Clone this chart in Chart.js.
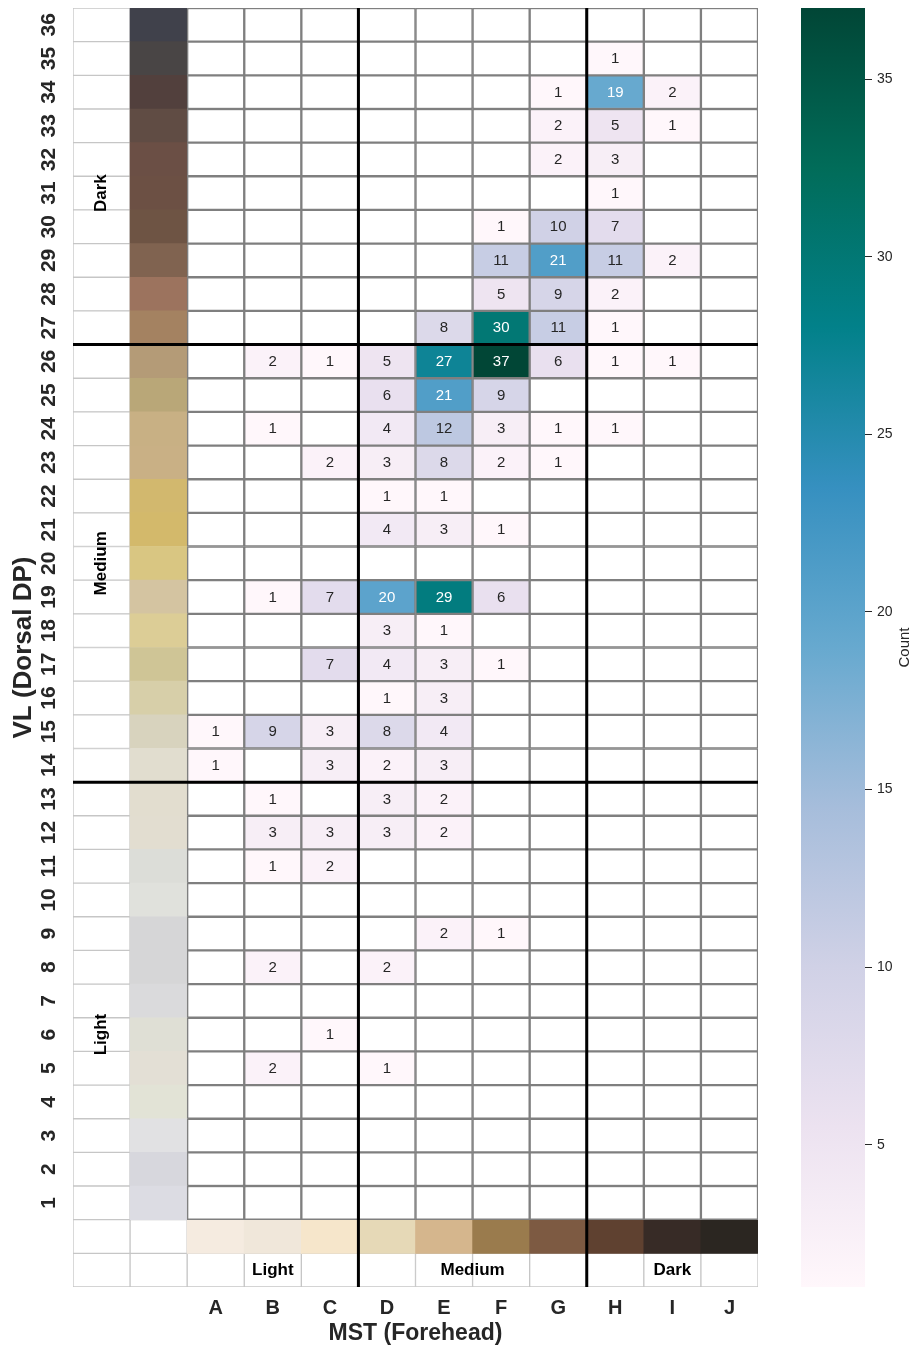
<!DOCTYPE html>
<html>
<head>
<meta charset="utf-8">
<title>MST vs VL heatmap</title>
<script src="https://cdn.jsdelivr.net/npm/chart.js@4.4.1/dist/chart.umd.min.js"></script>
<style>
  html, body { margin: 0; padding: 0; background: #ffffff; }
  #wrap { position: relative; width: 914px; height: 1347px; }
  #heat { position: absolute; left: 0; top: 0; }
  #bar  { position: absolute; left: 790px; top: 0; }
</style>
</head>
<body>
<div id="wrap">
  <canvas id="heat" width="790" height="1347"></canvas>
  <canvas id="bar" width="124" height="1347"></canvas>
</div>
<script>
// ---- categories ----
const vlLevels = [1, 2, 3, 4, 5, 6, 7, 8, 9, 10, 11, 12, 13, 14, 15, 16, 17, 18,
                  19, 20, 21, 22, 23, 24, 25, 26, 27, 28, 29, 30, 31, 32, 33, 34, 35, 36];
const mstLabels = ['A', 'B', 'C', 'D', 'E', 'F', 'G', 'H', 'I', 'J'];

// ---- counts per MST (forehead) tone, indexed VL 1 .. 36 ----
//              VL1-5        VL6-10       VL11-15      VL16-20       VL21-25        VL26-30         VL31-35     36
const mstA = [0,0,0,0,0,  0,0,0,0,0,  0,0,0,1,1,  0,0,0,0,0,   0,0,0,0,0,     0,0,0,0,0,      0,0,0,0,0,  0];
const mstB = [0,0,0,0,2,  0,0,2,0,0,  1,3,1,0,9,  0,0,0,1,0,   0,0,0,1,0,     2,0,0,0,0,      0,0,0,0,0,  0];
const mstC = [0,0,0,0,0,  1,0,0,0,0,  2,3,0,3,3,  0,7,0,7,0,   0,0,2,0,0,     1,0,0,0,0,      0,0,0,0,0,  0];
const mstD = [0,0,0,0,1,  0,0,2,0,0,  0,3,3,2,8,  1,4,3,20,0,  4,1,3,4,6,     5,0,0,0,0,      0,0,0,0,0,  0];
const mstE = [0,0,0,0,0,  0,0,0,2,0,  0,2,2,3,4,  3,3,1,29,0,  3,1,8,12,21,   27,8,0,0,0,     0,0,0,0,0,  0];
const mstF = [0,0,0,0,0,  0,0,0,1,0,  0,0,0,0,0,  0,1,0,6,0,   1,0,2,3,9,     37,30,5,11,1,   0,0,0,0,0,  0];
const mstG = [0,0,0,0,0,  0,0,0,0,0,  0,0,0,0,0,  0,0,0,0,0,   0,0,1,1,0,     6,11,9,21,10,   0,2,2,1,0,  0];
const mstH = [0,0,0,0,0,  0,0,0,0,0,  0,0,0,0,0,  0,0,0,0,0,   0,0,0,1,0,     1,1,2,11,7,     1,3,5,19,1, 0];
const mstI = [0,0,0,0,0,  0,0,0,0,0,  0,0,0,0,0,  0,0,0,0,0,   0,0,0,0,0,     1,0,0,2,0,      0,0,1,2,0,  0];
const mstJ = [0,0,0,0,0,  0,0,0,0,0,  0,0,0,0,0,  0,0,0,0,0,   0,0,0,0,0,     0,0,0,0,0,      0,0,0,0,0,  0];
const countsByMst = [mstA, mstB, mstC, mstD, mstE, mstF, mstG, mstH, mstI, mstJ];

// ---- reference swatches ----
const vlSwatches = [
  '#dcdce3', '#d7d7dd', '#e1e1e3', '#e2e3d6', '#e3dfd5', '#dfdfd5', '#dadadc', '#d6d6d7', '#d6d6d7',
  '#e0e1dc', '#dcddd8', '#e2ddd0', '#e2ddcf', '#e1ddcf', '#d8d3be', '#d7cfa9', '#cfc596', '#dccd96',
  '#d4c4a1', '#d9c682', '#d3b96b', '#d2b86e', '#c9b085', '#c8b084', '#b9a778', '#b49b77', '#a48261',
  '#9c735e', '#806350', '#6e5444', '#6c5044', '#6b4f45', '#604c44', '#52403d', '#494545', '#40414b'
];
const mstSwatches = ['#f5ebe0', '#f0e7da', '#f6e6cb', '#e6d9b7', '#d5b68d',
                     '#9a7b4d', '#7d5a42', '#5f4130', '#372b26', '#2b2621'];

// ---- tone bands ----
const bandNames = ['Light', 'Medium', 'Dark'];
const vlBands = [[1, 13], [14, 26], [27, 36]];
const vlBandLabelRows = [6, 20, 31];
const mstBands = [['A', 'C'], ['D', 'G'], ['H', 'J']];

// ---- colour bar ticks ----
const countTicks = [5, 10, 15, 20, 25, 30, 35];

// ---------------------------------------------------------------
const FONT = "'Liberation Sans', Arial, Helvetica, sans-serif";
Chart.defaults.font.family = FONT;
const INK = '#262626';

const xCategories = ['band', 'swatch'].concat(mstLabels);
const ROW_MST = 0;     // MST swatch row
const ROW_BAND = -1;   // MST band-name row

const allCounts = countsByMst.flat().filter(v => v > 0);
const countMin = Math.min(...allCounts);
const countMax = Math.max(...allCounts);

// PuBuGn colour map
const pubugn = ['#fff7fb', '#ece2f0', '#d0d1e6', '#a6bddb', '#67a9cf',
                '#3690c0', '#02818a', '#016c59', '#014636'];
const hexRgb = h => [1, 3, 5].map(i => parseInt(h.slice(i, i + 2), 16));
function cmapRgb(v) {
  let t = (v - countMin) / (countMax - countMin);
  t = Math.max(0, Math.min(1, t));
  const p = t * (pubugn.length - 1);
  const i = Math.min(Math.floor(p), pubugn.length - 2);
  const f = p - i;
  const a = hexRgb(pubugn[i]), b = hexRgb(pubugn[i + 1]);
  return a.map((c, k) => Math.round(c + (b[k] - c) * f));
}
const rgbStr = c => `rgb(${c[0]},${c[1]},${c[2]})`;
function luminance(c) {
  const lin = c.map(x => { x /= 255; return x <= 0.03928 ? x / 12.92 : Math.pow((x + 0.055) / 1.055, 2.4); });
  return 0.2126 * lin[0] + 0.7152 * lin[1] + 0.0722 * lin[2];
}

function countAt(level, col) {
  if (col < 2 || level < 1) return 0;
  return countsByMst[col - 2][level - 1] || 0;
}

function cellFill(kind, level, i) {
  if (kind === 'vl') {
    if (i === 0) return '#ffffff';
    if (i === 1) return vlSwatches[level - 1];
    const v = countAt(level, i);
    return v > 0 ? rgbStr(cmapRgb(v)) : '#ffffff';
  }
  if (kind === 'mst') return i < 2 ? '#ffffff' : mstSwatches[i - 2];
  return '#ffffff';
}
function cellEdge(kind, i) {
  if (kind === 'vl') return i === 0 ? '#c6c6c6' : (i === 1 ? 'rgba(0,0,0,0)' : '#7f7f7f');
  if (kind === 'mst') return i < 2 ? '#c6c6c6' : 'rgba(0,0,0,0)';
  return '#c6c6c6';
}
function cellEdgeWidth(kind, i) {
  if (kind === 'vl') return i === 0 ? 1 : (i === 1 ? 0 : 1.5);
  if (kind === 'mst') return i < 2 ? 1 : 0;
  return 1;
}

function rowDataset(level, kind) {
  return {
    label: kind + ' ' + level,
    level: level,
    kind: kind,
    data: xCategories.map(() => [level - 0.5, level + 0.5]),
    backgroundColor: c => cellFill(kind, level, c.dataIndex),
    borderColor: c => cellEdge(kind, c.dataIndex),
    borderWidth: c => cellEdgeWidth(kind, c.dataIndex),
    borderSkipped: false,
    grouped: false,
    barPercentage: 1,
    categoryPercentage: 1
  };
}

const datasets = vlLevels.map(l => rowDataset(l, 'vl'))
  .concat([rowDataset(ROW_MST, 'mst'), rowDataset(ROW_BAND, 'band')]);

// dividers, counts and band names on top of the cells
const heatOverlay = {
  id: 'heatOverlay',
  afterDatasetsDraw(chart) {
    const { ctx, chartArea, scales: { x, y } } = chart;
    ctx.save();

    // band dividers
    ctx.strokeStyle = '#000000';
    ctx.lineWidth = 3;
    vlBands.slice(0, -1).forEach(b => {
      const py = y.getPixelForValue(b[1] + 0.5);
      ctx.beginPath(); ctx.moveTo(chartArea.left, py); ctx.lineTo(chartArea.right, py); ctx.stroke();
    });
    mstBands.slice(0, -1).forEach(b => {
      const px = x.getPixelForValue(xCategories.indexOf(b[1]) + 0.5);
      ctx.beginPath(); ctx.moveTo(px, chartArea.top); ctx.lineTo(px, chartArea.bottom); ctx.stroke();
    });

    // counts
    ctx.textAlign = 'center';
    ctx.textBaseline = 'middle';
    ctx.font = `15px ${FONT}`;
    chart.data.datasets.forEach((ds, di) => {
      if (ds.kind !== 'vl') return;
      chart.getDatasetMeta(di).data.forEach((el, i) => {
        const v = countAt(ds.level, i);
        if (!v) return;
        const p = el.getCenterPoint();
        ctx.fillStyle = luminance(cmapRgb(v)) > 0.408 ? INK : '#ffffff';
        ctx.fillText(String(v), p.x, p.y + 0.5);
      });
    });

    // band names
    ctx.fillStyle = '#000000';
    ctx.font = `bold 17px ${FONT}`;
    const metaFor = (kind, level) =>
      chart.getDatasetMeta(chart.data.datasets.findIndex(d => d.kind === kind && d.level === level));
    vlBandLabelRows.forEach((row, k) => {
      const p = metaFor('vl', row).data[0].getCenterPoint();
      ctx.save();
      ctx.translate(p.x, p.y);
      ctx.rotate(-Math.PI / 2);
      ctx.fillText(bandNames[k], 0, 0);
      ctx.restore();
    });
    const bandRow = metaFor('band', ROW_BAND).data;
    mstBands.forEach((b, k) => {
      const a = bandRow[xCategories.indexOf(b[0])].getCenterPoint();
      const z = bandRow[xCategories.indexOf(b[1])].getCenterPoint();
      ctx.fillText(bandNames[k], (a.x + z.x) / 2, a.y + 0.5);
    });
    ctx.restore();
  }
};

new Chart(document.getElementById('heat'), {
  type: 'bar',
  data: { labels: xCategories, datasets: datasets },
  options: {
    responsive: false,
    animation: false,
    devicePixelRatio: 1,
    layout: { padding: { top: 8, right: 32, bottom: 0, left: 0 } },
    plugins: { legend: { display: false }, tooltip: { enabled: false } },
    scales: {
      x: {
        type: 'category',
        offset: true,
        grid: { display: false, drawTicks: false },
        border: { display: false },
        ticks: {
          autoSkip: false, minRotation: 0, maxRotation: 0, padding: 9,
          color: INK,
          font: { size: 20, weight: 'bold' },
          callback(v, i) { return i >= 2 ? this.getLabelForValue(v) : ''; }
        },
        title: {
          display: true, text: 'MST (Forehead)', color: INK,
          font: { size: 23, weight: 'bold' },
          padding: { top: 0, bottom: 0 }
        },
        afterFit(s) { s.height = 60; s.paddingLeft = 0; s.paddingRight = 0; }
      },
      y: {
        type: 'linear',
        min: ROW_BAND - 0.5,
        max: vlLevels[vlLevels.length - 1] + 0.5,
        grid: { display: false, drawTicks: false },
        border: { display: false },
        afterBuildTicks(s) { s.ticks = vlLevels.map(v => ({ value: v })); },
        ticks: {
          autoSkip: false, minRotation: 90, maxRotation: 90,
          crossAlign: 'center', padding: 12,
          color: INK,
          font: { size: 21, weight: 'bold' },
          callback: v => String(v)
        },
        title: {
          display: true, text: 'VL (Dorsal DP)', color: INK,
          font: { size: 26, weight: 'bold' },
          padding: { top: 8, bottom: 0 }
        },
        afterFit(s) { s.width = 73; s.paddingTop = 0; s.paddingBottom = 0; }
      }
    }
  },
  plugins: [heatOverlay]
});

// colour bar
const countTitle = {
  id: 'countTitle',
  afterDraw(chart) {
    const { ctx, chartArea } = chart;
    ctx.save();
    ctx.translate(115, (chartArea.top + chartArea.bottom) / 2);
    ctx.rotate(-Math.PI / 2);
    ctx.textAlign = 'center';
    ctx.textBaseline = 'middle';
    ctx.fillStyle = INK;
    ctx.font = `15px ${FONT}`;
    ctx.fillText('Count', 0, 0);
    ctx.restore();
  }
};

new Chart(document.getElementById('bar'), {
  type: 'bar',
  data: {
    labels: ['Count'],
    datasets: [{
      data: [[countMin, countMax]],
      backgroundColor(c) {
        const chart = c.chart;
        const y = chart.scales.y;
        if (!chart.chartArea || !y) return pubugn[0];
        const y0 = y.getPixelForValue(countMin);
        const y1 = y.getPixelForValue(countMax);
        if (!isFinite(y0) || !isFinite(y1) || y0 === y1) return pubugn[0];
        const g = chart.ctx.createLinearGradient(0, y0, 0, y1);
        pubugn.forEach((col, i) => g.addColorStop(i / (pubugn.length - 1), col));
        return g;
      },
      borderWidth: 0,
      barPercentage: 1,
      categoryPercentage: 1
    }]
  },
  options: {
    responsive: false,
    animation: false,
    devicePixelRatio: 1,
    layout: { padding: { top: 8, bottom: 60, left: 11, right: 0 } },
    plugins: { legend: { display: false }, tooltip: { enabled: false } },
    scales: {
      x: { display: false },
      y: {
        position: 'right',
        min: countMin,
        max: countMax,
        afterBuildTicks(s) { s.ticks = countTicks.map(v => ({ value: v })); },
        grid: { display: true, drawOnChartArea: false, drawTicks: true, tickLength: 7, color: INK, lineWidth: 1 },
        border: { display: false },
        ticks: { color: INK, font: { size: 14 }, padding: 5 },
        afterFit(s) { s.width = 49; s.paddingTop = 0; s.paddingBottom = 0; }
      }
    }
  },
  plugins: [countTitle]
});
</script>
</body>
</html>
